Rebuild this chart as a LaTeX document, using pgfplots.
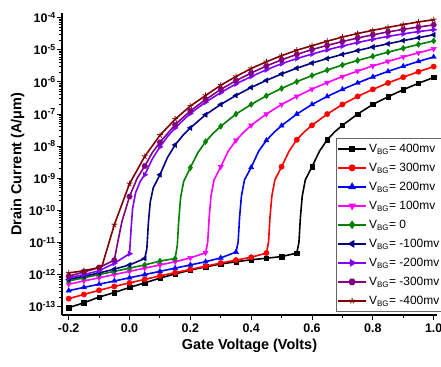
\documentclass[border=0pt]{standalone}
\usepackage{fontspec}
\setmainfont{Liberation Sans}
\usepackage{pgfplots}
\pgfplotsset{compat=1.18}
\usepackage{pgfplotstable}
\usetikzlibrary{plotmarks}

\definecolor{cred}{RGB}{255,0,0}
\definecolor{cblue}{RGB}{0,0,255}
\definecolor{cmag}{RGB}{255,0,255}
\definecolor{cgreen}{RGB}{0,128,0}
\definecolor{cnavy}{RGB}{0,0,128}
\definecolor{cviolet}{RGB}{128,0,255}
\definecolor{cpurple}{RGB}{128,0,128}
\definecolor{cdred}{RGB}{128,0,0}

\pgfdeclareplotmark{hexagon*}{%
  \pgfpathmoveto{\pgfpointpolar{0}{\pgfplotmarksize}}%
  \pgfpathlineto{\pgfpointpolar{60}{\pgfplotmarksize}}%
  \pgfpathlineto{\pgfpointpolar{120}{\pgfplotmarksize}}%
  \pgfpathlineto{\pgfpointpolar{180}{\pgfplotmarksize}}%
  \pgfpathlineto{\pgfpointpolar{240}{\pgfplotmarksize}}%
  \pgfpathlineto{\pgfpointpolar{300}{\pgfplotmarksize}}%
  \pgfpathclose
  \pgfusepathqfillstroke}

% columns: gate voltage, log10(drain current), marker flag
\pgfplotstableread{
x ly m
-0.20 -13.03 1
-0.15 -12.88 1
-0.10 -12.70 1
-0.05 -12.56 1
0.00 -12.40 1
0.05 -12.26 1
0.10 -12.11 1
0.15 -11.98 1
0.20 -11.86 1
0.25 -11.76 1
0.30 -11.67 1
0.35 -11.60 1
0.40 -11.54 1
0.45 -11.49 1
0.50 -11.44 1
0.55 -11.33 1
0.557 -11.0 0
0.562 -10.2 0
0.568 -9.55 0
0.578 -9.05 0
0.60 -8.64 1
0.625 -8.15 0
0.65 -7.80 1
0.675 -7.55 0
0.70 -7.35 1
0.75 -7.00 1
0.80 -6.70 1
0.85 -6.46 1
0.90 -6.24 1
0.95 -6.04 1
1.00 -5.86 1
}\tA
\pgfplotstableread{
x ly m
-0.20 -12.75 1
-0.15 -12.62 1
-0.10 -12.49 1
-0.05 -12.37 1
0.00 -12.26 1
0.05 -12.15 1
0.10 -12.04 1
0.15 -11.94 1
0.20 -11.84 1
0.25 -11.74 1
0.30 -11.64 1
0.35 -11.55 1
0.40 -11.46 1
0.45 -11.33 1
0.457 -11.0 0
0.462 -10.2 0
0.468 -9.55 0
0.478 -9.05 0
0.50 -8.64 1
0.525 -8.15 0
0.55 -7.80 1
0.575 -7.55 0
0.60 -7.35 1
0.65 -7.00 1
0.70 -6.70 1
0.75 -6.45 1
0.80 -6.23 1
0.85 -6.03 1
0.90 -5.85 1
0.95 -5.68 1
1.00 -5.52 1
}\tB
\pgfplotstableread{
x ly m
-0.20 -12.50 1
-0.15 -12.40 1
-0.10 -12.30 1
-0.05 -12.20 1
0.00 -12.10 1
0.05 -12.00 1
0.10 -11.90 1
0.15 -11.80 1
0.20 -11.70 1
0.25 -11.60 1
0.30 -11.48 1
0.35 -11.30 1
0.357 -11.0 0
0.362 -10.2 0
0.368 -9.55 0
0.378 -9.05 0
0.40 -8.66 1
0.425 -8.15 0
0.45 -7.82 1
0.475 -7.57 0
0.50 -7.36 1
0.55 -7.00 1
0.60 -6.70 1
0.65 -6.45 1
0.70 -6.23 1
0.75 -6.03 1
0.80 -5.84 1
0.85 -5.67 1
0.90 -5.51 1
0.95 -5.36 1
1.00 -5.22 1
}\tC
\pgfplotstableread{
x ly m
-0.20 -12.30 1
-0.15 -12.20 1
-0.10 -12.10 1
-0.05 -12.00 1
0.00 -11.90 1
0.05 -11.80 1
0.10 -11.70 1
0.15 -11.60 1
0.20 -11.48 1
0.25 -11.32 1
0.257 -11.0 0
0.262 -10.2 0
0.268 -9.55 0
0.278 -9.05 0
0.30 -8.64 1
0.325 -8.15 0
0.35 -7.82 1
0.375 -7.57 0
0.40 -7.35 1
0.45 -7.00 1
0.50 -6.70 1
0.55 -6.45 1
0.60 -6.22 1
0.65 -6.02 1
0.70 -5.83 1
0.75 -5.66 1
0.80 -5.50 1
0.85 -5.36 1
0.90 -5.22 1
0.95 -5.09 1
1.00 -4.97 1
}\tD
\pgfplotstableread{
x ly m
-0.20 -12.20 1
-0.15 -12.10 1
-0.10 -12.00 1
-0.05 -11.90 1
0.00 -11.80 1
0.05 -11.70 1
0.10 -11.58 1
0.15 -11.50 1
0.157 -11.1 0
0.162 -10.3 0
0.168 -9.6 0
0.178 -9.1 0
0.20 -8.67 1
0.225 -8.2 0
0.25 -7.86 1
0.275 -7.6 0
0.30 -7.38 1
0.35 -7.00 1
0.40 -6.70 1
0.45 -6.43 1
0.50 -6.20 1
0.55 -5.99 1
0.60 -5.80 1
0.65 -5.63 1
0.70 -5.47 1
0.75 -5.33 1
0.80 -5.20 1
0.85 -5.07 1
0.90 -4.95 1
0.95 -4.83 1
1.00 -4.72 1
}\tE
\pgfplotstableread{
x ly m
-0.20 -12.15 1
-0.15 -12.05 1
-0.10 -11.95 1
-0.05 -11.83 1
0.00 -11.70 1
0.05 -11.50 1
0.057 -11.2 0
0.062 -10.4 0
0.068 -9.75 0
0.078 -9.3 0
0.10 -8.89 1
0.125 -8.35 0
0.15 -7.96 1
0.175 -7.67 0
0.20 -7.43 1
0.25 -7.02 1
0.30 -6.70 1
0.35 -6.42 1
0.40 -6.17 1
0.45 -5.95 1
0.50 -5.75 1
0.55 -5.57 1
0.60 -5.41 1
0.65 -5.27 1
0.70 -5.14 1
0.75 -5.02 1
0.80 -4.91 1
0.85 -4.81 1
0.90 -4.71 1
0.95 -4.62 1
1.00 -4.53 1
}\tF
\pgfplotstableread{
x ly m
-0.20 -12.10 1
-0.15 -12.00 1
-0.10 -11.88 1
-0.05 -11.65 1
0.00 -11.35 1
0.005 -10.6 0
0.01 -9.95 0
0.02 -9.45 0
0.035 -9.1 0
0.05 -8.89 1
0.075 -8.4 0
0.10 -8.02 1
0.125 -7.7 0
0.15 -7.43 1
0.20 -6.98 1
0.25 -6.63 1
0.30 -6.33 1
0.35 -6.06 1
0.40 -5.83 1
0.45 -5.62 1
0.50 -5.43 1
0.55 -5.27 1
0.60 -5.13 1
0.65 -5.00 1
0.70 -4.88 1
0.75 -4.77 1
0.80 -4.67 1
0.85 -4.58 1
0.90 -4.50 1
0.95 -4.43 1
1.00 -4.37 1
}\tG
\pgfplotstableread{
x ly m
-0.20 -12.05 1
-0.15 -11.92 1
-0.10 -11.78 1
-0.05 -11.55 1
-0.04 -11.05 0
-0.025 -10.35 0
0.00 -9.57 1
0.025 -9.0 0
0.05 -8.62 1
0.075 -8.2 0
0.10 -7.88 1
0.15 -7.33 1
0.20 -6.90 1
0.25 -6.55 1
0.30 -6.23 1
0.35 -5.96 1
0.40 -5.72 1
0.45 -5.50 1
0.50 -5.31 1
0.55 -5.14 1
0.60 -4.99 1
0.65 -4.86 1
0.70 -4.74 1
0.75 -4.63 1
0.80 -4.53 1
0.85 -4.44 1
0.90 -4.36 1
0.95 -4.29 1
1.00 -4.22 1
}\tH
\pgfplotstableread{
x ly m
-0.20 -11.95 1
-0.15 -11.88 1
-0.10 -11.78 1
-0.09 -11.72 0
-0.05 -10.45 1
0.00 -9.17 1
0.05 -8.32 1
0.10 -7.66 1
0.15 -7.16 1
0.20 -6.75 1
0.25 -6.42 1
0.30 -6.10 1
0.35 -5.83 1
0.40 -5.58 1
0.45 -5.37 1
0.50 -5.18 1
0.55 -5.01 1
0.60 -4.87 1
0.65 -4.73 1
0.70 -4.60 1
0.75 -4.49 1
0.80 -4.39 1
0.85 -4.30 1
0.90 -4.21 1
0.95 -4.13 1
1.00 -4.06 1
}\tI

\newcommand{\serie}[3]{%
  \addplot[#2, line width=1.6bp, forget plot] table[x=x, y expr={10^(\thisrow{ly})}] {#1};
  \addplot[#2, only marks, #3, forget plot, restrict expr to domain={\thisrow{m}}{0.5:1.5}] table[x=x, y expr={10^(\thisrow{ly})}] {#1};
}

\begin{document}
\begin{tikzpicture}
\begin{axis}[
  scale only axis,
  width=375bp, height=302bp,
  ymode=log,
  xmin=-0.222, xmax=1.011,
  ymin=5.5e-14, ymax=1.41e-4,
  axis x line*=bottom, axis y line*=left,
  axis line style={line width=1.2bp, black},
  tick style={line width=1bp, black},
  tick align=outside,
  major tick length=5bp, minor tick length=3bp,
  xtick={-0.2,0,0.2,0.4,0.6,0.8,1.0},
  minor x tick num=1,
  ytick={1e-13,1e-12,1e-11,1e-10,1e-9,1e-8,1e-7,1e-6,1e-5,1e-4},
  yticklabels={10\textsuperscript{-13},10\textsuperscript{-12},10\textsuperscript{-11},10\textsuperscript{-10},10\textsuperscript{-9},10\textsuperscript{-8},10\textsuperscript{-7},10\textsuperscript{-6},10\textsuperscript{-5},10\textsuperscript{-4}},
  /pgf/number format/assume math mode=true,
  xticklabel style={/pgf/number format/.cd, fixed, fixed zerofill, precision=1},
  ticklabel style={font=\fontsize{12.5}{14}\selectfont\bfseries},
  yticklabel style={inner sep=1bp},
  xlabel={Gate Voltage (Volts)},
  ylabel={Drain Current (A/μm)},
  label style={font=\fontsize{14.5}{17}\selectfont\bfseries},
  clip mode=individual,
  legend image code/.code={\draw[mark repeat=2,mark phase=2,#1] plot coordinates {(0bp,0bp) (14bp,0bp) (28bp,0bp)};},
  legend style={at={(0.7307,0.586)}, anchor=north west, draw=black!60, line width=0.6bp,
    font=\fontsize{12}{14}\selectfont, inner sep=1bp, row sep=0pt,
    nodes={text height=11bp, text depth=3.5bp, inner sep=2.25bp}},
  legend cell align=left,
]
\serie{\tA}{black}{mark=square*, mark size=2.2bp}
\serie{\tB}{cred}{mark=*, mark size=2.7bp}
\serie{\tC}{cblue}{mark=triangle*, mark size=3bp}
\serie{\tD}{cmag}{mark=triangle*, mark size=3bp, mark options={rotate=180}}
\serie{\tE}{cgreen}{mark=diamond*, mark size=3bp}
\serie{\tF}{cnavy}{mark=triangle*, mark size=3bp, mark options={rotate=90}}
\serie{\tG}{cviolet}{mark=triangle*, mark size=3bp, mark options={rotate=-90}}
\serie{\tH}{cpurple}{mark=hexagon*, mark size=2.8bp}
\serie{\tI}{cdred}{mark=star, mark size=3bp, mark options={line width=0.8bp}}
\addlegendimage{black, line width=1.6bp, mark=square*, mark size=2.2bp}
\addlegendentry{V\textsubscript{BG}= 400mv}
\addlegendimage{cred, line width=1.6bp, mark=*, mark size=2.7bp}
\addlegendentry{V\textsubscript{BG}= 300mv}
\addlegendimage{cblue, line width=1.6bp, mark=triangle*, mark size=3bp}
\addlegendentry{V\textsubscript{BG}= 200mv}
\addlegendimage{cmag, line width=1.6bp, mark=triangle*, mark size=3bp, mark options={rotate=180}}
\addlegendentry{V\textsubscript{BG}= 100mv}
\addlegendimage{cgreen, line width=1.6bp, mark=diamond*, mark size=3bp}
\addlegendentry{V\textsubscript{BG}= 0}
\addlegendimage{cnavy, line width=1.6bp, mark=triangle*, mark size=3bp, mark options={rotate=90}}
\addlegendentry{V\textsubscript{BG}= -100mv}
\addlegendimage{cviolet, line width=1.6bp, mark=triangle*, mark size=3bp, mark options={rotate=-90}}
\addlegendentry{V\textsubscript{BG}= -200mv}
\addlegendimage{cpurple, line width=1.6bp, mark=hexagon*, mark size=2.8bp}
\addlegendentry{V\textsubscript{BG}= -300mv}
\addlegendimage{cdred, line width=1.6bp, mark=star, mark size=3bp, mark options={line width=0.8bp}}
\addlegendentry{V\textsubscript{BG}= -400mv}
\end{axis}
\pgfresetboundingbox
\path[use as bounding box] ([shift={(-62bp,-52bp)}]current axis.south west) rectangle ([shift={(4bp,13bp)}]current axis.north east);
\end{tikzpicture}
\end{document}
